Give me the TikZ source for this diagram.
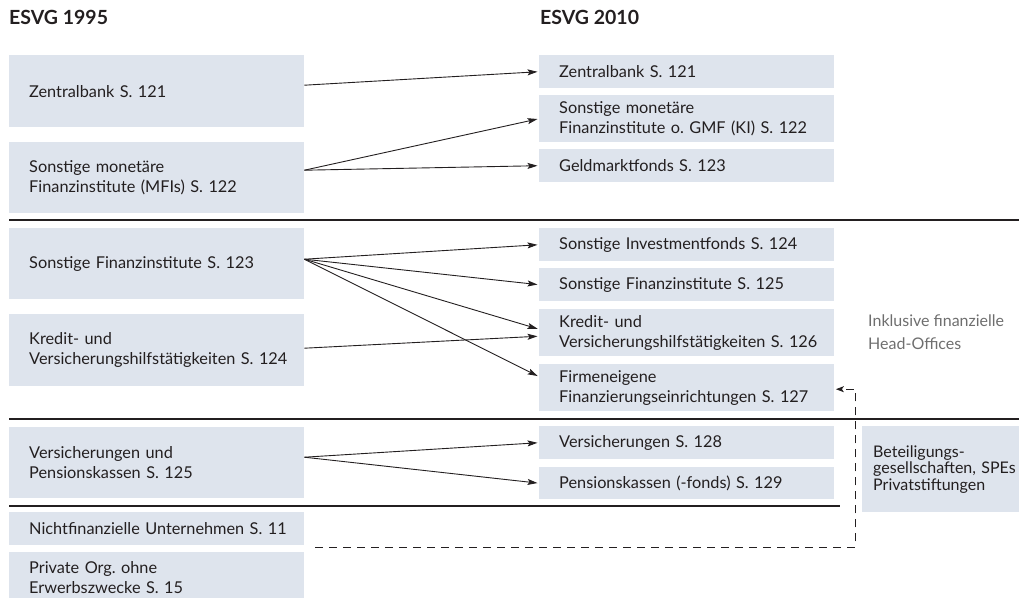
\documentclass[tikz,border=0pt]{standalone}
\usepackage{fontspec}
\setmainfont{Lato}
\usetikzlibrary{arrows.meta, calc}

\definecolor{kasten}{RGB}{222,228,237}
\definecolor{schrift}{RGB}{35,31,32}
\definecolor{hinweis}{RGB}{110,110,110}

\begin{document}
\begin{tikzpicture}[x=1pt, y=-1pt, line cap=butt, line join=miter,
  box/.style={fill=kasten, anchor=north west, inner xsep=0pt, inner ysep=0pt,
    text width=295pt, align=left, text=schrift,
    font=\fontsize{16.3}{20}\selectfont,
    execute at begin node={\leftskip=20pt}},
  pfeil/.style={-{Stealth[length=10pt, width=6pt, inset=2pt]}, line width=0.9pt,
    draw=schrift, shorten >=1.5pt},
  gestrichelt/.style={-{Stealth[length=8pt, width=6pt, inset=2pt]}, line width=0.9pt,
    draw=schrift, dash pattern=on 8pt off 6pt},
  trenn/.style={line width=2.2pt, draw=schrift},
  kopf/.style={anchor=west, inner sep=0pt, text=schrift,
    font=\fontsize{19.5}{22}\selectfont\bfseries}]

\useasboundingbox (0,0) rectangle (1019,597);

% Ueberschriften
\node[kopf] (esvg95) at (9,17) {ESVG 1995};
\node[kopf] (esvg10) at (540,17) {ESVG 2010};

% Sektoren ESVG 1995
\node[box, minimum height=72pt] (z95)   at (9,55)  {Zentralbank S. 121};
\node[box, minimum height=71pt] (mfi95) at (9,142) {Sonstige monetäre\\Finanzinstitute (MFIs) S. 122};
\node[box, minimum height=71pt] (sfi95) at (9,228) {Sonstige Finanzinstitute S. 123};
\node[box, minimum height=72pt] (khi95) at (9,314) {Kredit- und\\Versicherungshilfstätigkeiten S. 124};
\node[box, minimum height=71pt] (vpk95) at (9,427) {Versicherungen und\\Pensionskassen S. 125};
\node[box, minimum height=33pt] (nfu95) at (9,512) {Nichtfinanzielle Unternehmen S. 11};
\node[box, minimum height=50pt] (poe95) at (9,552) {Private Org.\ ohne\\Erwerbszwecke S. 15};

% Sektoren ESVG 2010
\node[box, minimum height=33pt] (z10)   at (539,55)  {Zentralbank S. 121};
\node[box, minimum height=47pt] (mfi10) at (539,95)  {Sonstige monetäre\\Finanzinstitute o.\ GMF (KI) S. 122};
\node[box, minimum height=33pt] (gmf10) at (539,149) {Geldmarktfonds S. 123};
\node[box, minimum height=33pt] (sif10) at (539,228) {Sonstige Investmentfonds S. 124};
\node[box, minimum height=33pt] (sfi10) at (539,268) {Sonstige Finanzinstitute S. 125};
\node[box, minimum height=47pt] (khi10) at (539,309) {Kredit- und\\Versicherungshilfstätigkeiten S. 126};
\node[box, minimum height=47pt] (fin10) at (539,364) {Firmeneigene\\Finanzierungseinrichtungen S. 127};
\node[box, minimum height=33pt] (vers10) at (539,426) {Versicherungen S. 128};
\node[box, minimum height=32pt] (pk10)  at (539,467) {Pensionskassen (-fonds) S. 129};

% Zusatzangaben rechts
\node[anchor=west, inner sep=0pt, align=left, text=hinweis,
  font=\fontsize{16}{23}\selectfont] (inkl) at (868,332) {Inklusive finanzielle\\Head-Offices};
\node[box, text width=180pt, minimum height=86pt, font=\fontsize{16}{16.5}\selectfont,
  execute at begin node={\leftskip=11pt}] (beteil) at (862,426)
  {Beteiligungs-\\gesellschaften, SPEs\\Privatstiftungen};

% Trennlinien
\draw[trenn] (9,220) -- (1019,220);
\draw[trenn] (9,419) -- (1019,419);
\draw[trenn] (9,506) -- (840,506);

% Zuordnungen
\draw[pfeil] ([yshift=6pt]z95.east) -- (z10.west);
\draw[pfeil] ([yshift=7.5pt]mfi95.east) -- (mfi10.west);
\draw[pfeil] ([yshift=7.5pt]mfi95.east) -- (gmf10.west);
\draw[pfeil] ([yshift=4.5pt]sfi95.east) -- (sif10.west);
\draw[pfeil] ([yshift=4.5pt]sfi95.east) -- (sfi10.west);
\draw[pfeil] ([yshift=4.5pt]sfi95.east) -- ([yshift=3.5pt]khi10.west);
\draw[pfeil] ([yshift=4.5pt]sfi95.east) -- ([yshift=11pt]fin10.west);
\draw[pfeil] ([yshift=2pt]khi95.east) -- ([yshift=-3.5pt]khi10.west);
\draw[pfeil] ([yshift=5.5pt]vpk95.east) -- (vers10.west);
\draw[pfeil] ([yshift=5.5pt]vpk95.east) -- (pk10.west);

% Umgliederung aus S. 11 / S. 15
\coordinate (nfuende) at (315,547);
\draw[gestrichelt] (nfuende) -| ([xshift=21pt,yshift=-1.5pt]fin10.east) -- ([xshift=1.5pt,yshift=-1.5pt]fin10.east);

\end{tikzpicture}
\end{document}
